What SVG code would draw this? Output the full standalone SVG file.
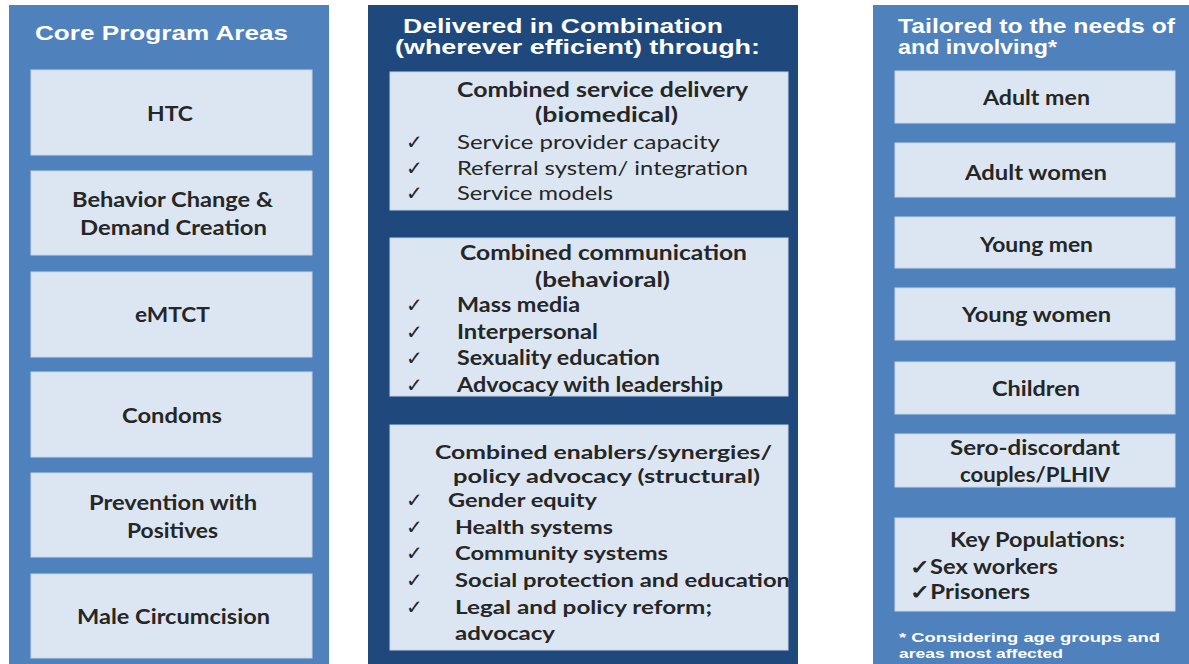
<svg xmlns="http://www.w3.org/2000/svg" width="1189" height="664" viewBox="0 0 1189 664">
<style>
.bg{fill:#ffffff}
.pm{fill:#4f81bd}
.pd{fill:#1f497d}
.bx{fill:#dce6f2;stroke:#c5d5ea;stroke-width:1}
.hd{font-family:"Liberation Sans",Arial,sans-serif;font-weight:bold;fill:#ffffff;font-size:21px}
.t{font-family:Lato,"Open Sans",sans-serif;font-weight:bold;fill:#262626;font-size:20px}
.s{font-size:18.5px}
.n{font-weight:normal}
.ck{font-family:"DejaVu Sans",sans-serif;fill:#262626;font-size:20px}
.fn{font-family:"Liberation Sans",Arial,sans-serif;font-weight:bold;fill:#ffffff;font-size:12px}
</style>
<rect class="bg" x="0" y="0" width="1189" height="664"/>
<g id="panel-core">
<rect class="pm" x="9" y="5" width="320" height="659"/>
<text class="hd" x="35" y="40" textLength="253" lengthAdjust="spacingAndGlyphs">Core Program Areas</text>
</g>
<g id="node-htc"><rect class="bx" x="31" y="70" width="281" height="85"/><text class="t" x="147" y="121" textLength="46" lengthAdjust="spacingAndGlyphs">HTC</text></g>
<g id="node-bcc"><rect class="bx" x="31" y="171" width="281" height="84"/><text class="t" x="72" y="207" textLength="201" lengthAdjust="spacingAndGlyphs">Behavior Change  &amp;</text><text class="t" x="80" y="235" textLength="187" lengthAdjust="spacingAndGlyphs">Demand Creation</text></g>
<g id="node-emtct"><rect class="bx" x="31" y="272" width="281" height="85"/><text class="t" x="135" y="322" textLength="75" lengthAdjust="spacingAndGlyphs">eMTCT</text></g>
<g id="node-condoms"><rect class="bx" x="31" y="372" width="281" height="85"/><text class="t" x="122" y="423" textLength="100" lengthAdjust="spacingAndGlyphs">Condoms</text></g>
<g id="node-pwp"><rect class="bx" x="31" y="473" width="281" height="84"/><text class="t" x="89" y="510" textLength="168" lengthAdjust="spacingAndGlyphs">Prevention with</text><text class="t" x="127" y="538" textLength="91" lengthAdjust="spacingAndGlyphs">Positives</text></g>
<g id="node-mc"><rect class="bx" x="31" y="574" width="281" height="84"/><text class="t" x="77" y="624" textLength="193" lengthAdjust="spacingAndGlyphs">Male Circumcision</text></g>

<g id="panel-delivered">
<rect class="pd" x="368" y="5" width="430" height="659"/>
<text class="hd" x="403" y="33" textLength="320" lengthAdjust="spacingAndGlyphs">Delivered in Combination</text>
<text class="hd" x="395" y="54" textLength="365" lengthAdjust="spacingAndGlyphs">(wherever efficient) through:</text>
</g>
<g id="node-biomedical">
<rect class="bx" x="390" y="72" width="398" height="138"/>
<text class="t" x="457" y="97" textLength="291" lengthAdjust="spacingAndGlyphs">Combined service delivery</text>
<text class="t" x="535" y="122" textLength="143" lengthAdjust="spacingAndGlyphs">(biomedical)</text>
<text class="ck" x="406" y="149">✓</text><text class="t n" x="457" y="149" textLength="263" lengthAdjust="spacingAndGlyphs">Service provider capacity</text>
<text class="ck" x="406" y="175">✓</text><text class="t n" x="457" y="175" textLength="291" lengthAdjust="spacingAndGlyphs">Referral system/ integration</text>
<text class="ck" x="406" y="200">✓</text><text class="t n" x="457" y="200" textLength="156" lengthAdjust="spacingAndGlyphs">Service models</text>
</g>
<g id="node-behavioral">
<rect class="bx" x="390" y="238" width="398" height="158"/>
<text class="t" x="460" y="260" textLength="287" lengthAdjust="spacingAndGlyphs">Combined communication</text>
<text class="t" x="535" y="287" textLength="135" lengthAdjust="spacingAndGlyphs">(behavioral)</text>
<text class="ck" x="406" y="312">✓</text><text class="t" x="457" y="312" textLength="123" lengthAdjust="spacingAndGlyphs">Mass media</text>
<text class="ck" x="406" y="339">✓</text><text class="t" x="457" y="339" textLength="141" lengthAdjust="spacingAndGlyphs">Interpersonal</text>
<text class="ck" x="406" y="365">✓</text><text class="t" x="457" y="365" textLength="203" lengthAdjust="spacingAndGlyphs">Sexuality education</text>
<text class="ck" x="406" y="392">✓</text><text class="t" x="457" y="392" textLength="266" lengthAdjust="spacingAndGlyphs">Advocacy with leadership</text>
</g>
<g id="node-structural">
<rect class="bx" x="390" y="425" width="398" height="225"/>
<text class="t s" x="435" y="459" textLength="337" lengthAdjust="spacingAndGlyphs">Combined enablers/synergies/</text>
<text class="t s" x="453" y="483" textLength="307" lengthAdjust="spacingAndGlyphs">policy advocacy (structural)</text>
<text class="ck" x="406" y="507">✓</text><text class="t s" x="448" y="507" textLength="149" lengthAdjust="spacingAndGlyphs">Gender equity</text>
<text class="ck" x="406" y="534">✓</text><text class="t s" x="455" y="534" textLength="158" lengthAdjust="spacingAndGlyphs">Health systems</text>
<text class="ck" x="406" y="560">✓</text><text class="t s" x="455" y="560" textLength="213" lengthAdjust="spacingAndGlyphs">Community systems</text>
<text class="ck" x="406" y="587">✓</text><text class="t s" x="455" y="587" textLength="335" lengthAdjust="spacingAndGlyphs">Social protection and education</text>
<text class="ck" x="406" y="614">✓</text><text class="t s" x="455" y="614" textLength="257" lengthAdjust="spacingAndGlyphs">Legal and policy reform;</text>
<text class="t s" x="455" y="640" textLength="100" lengthAdjust="spacingAndGlyphs">advocacy</text>
</g>

<g id="panel-tailored">
<rect class="pm" x="873" y="5" width="316" height="659"/>
<text class="hd" x="898" y="33" textLength="277" lengthAdjust="spacingAndGlyphs">Tailored to the needs of</text>
<text class="hd" x="898" y="54" textLength="159" lengthAdjust="spacingAndGlyphs">and involving*</text>
<text class="fn" x="899" y="642" textLength="261" lengthAdjust="spacingAndGlyphs">* Considering age groups and</text>
<text class="fn" x="899" y="658" textLength="164" lengthAdjust="spacingAndGlyphs">areas most affected</text>
</g>
<g id="node-adultmen"><rect class="bx" x="895" y="71" width="280" height="52"/><text class="t" x="983" y="105" textLength="107" lengthAdjust="spacingAndGlyphs">Adult men</text></g>
<g id="node-adultwomen"><rect class="bx" x="895" y="143" width="280" height="54"/><text class="t" x="965" y="180" textLength="142" lengthAdjust="spacingAndGlyphs">Adult women</text></g>
<g id="node-youngmen"><rect class="bx" x="895" y="217" width="280" height="51"/><text class="t" x="980" y="252" textLength="113" lengthAdjust="spacingAndGlyphs">Young men</text></g>
<g id="node-youngwomen"><rect class="bx" x="895" y="288" width="280" height="52"/><text class="t" x="962" y="322" textLength="149" lengthAdjust="spacingAndGlyphs">Young women</text></g>
<g id="node-children"><rect class="bx" x="895" y="362" width="280" height="52"/><text class="t" x="992" y="396" textLength="88" lengthAdjust="spacingAndGlyphs">Children</text></g>
<g id="node-sero"><rect class="bx" x="895" y="434" width="280" height="53"/><text class="t" x="950" y="455" textLength="170" lengthAdjust="spacingAndGlyphs">Sero-discordant</text><text class="t" x="960" y="482" textLength="150" lengthAdjust="spacingAndGlyphs">couples/PLHIV</text></g>
<g id="node-keypop"><rect class="bx" x="895" y="518" width="280" height="93"/><text class="t" x="950" y="547" textLength="175" lengthAdjust="spacingAndGlyphs">Key Populations:</text><text class="t" x="910" y="574" textLength="148" lengthAdjust="spacingAndGlyphs">✓Sex workers</text><text class="t" x="910" y="599" textLength="120" lengthAdjust="spacingAndGlyphs">✓Prisoners</text></g>
<g id="connectors"></g>
</svg>
